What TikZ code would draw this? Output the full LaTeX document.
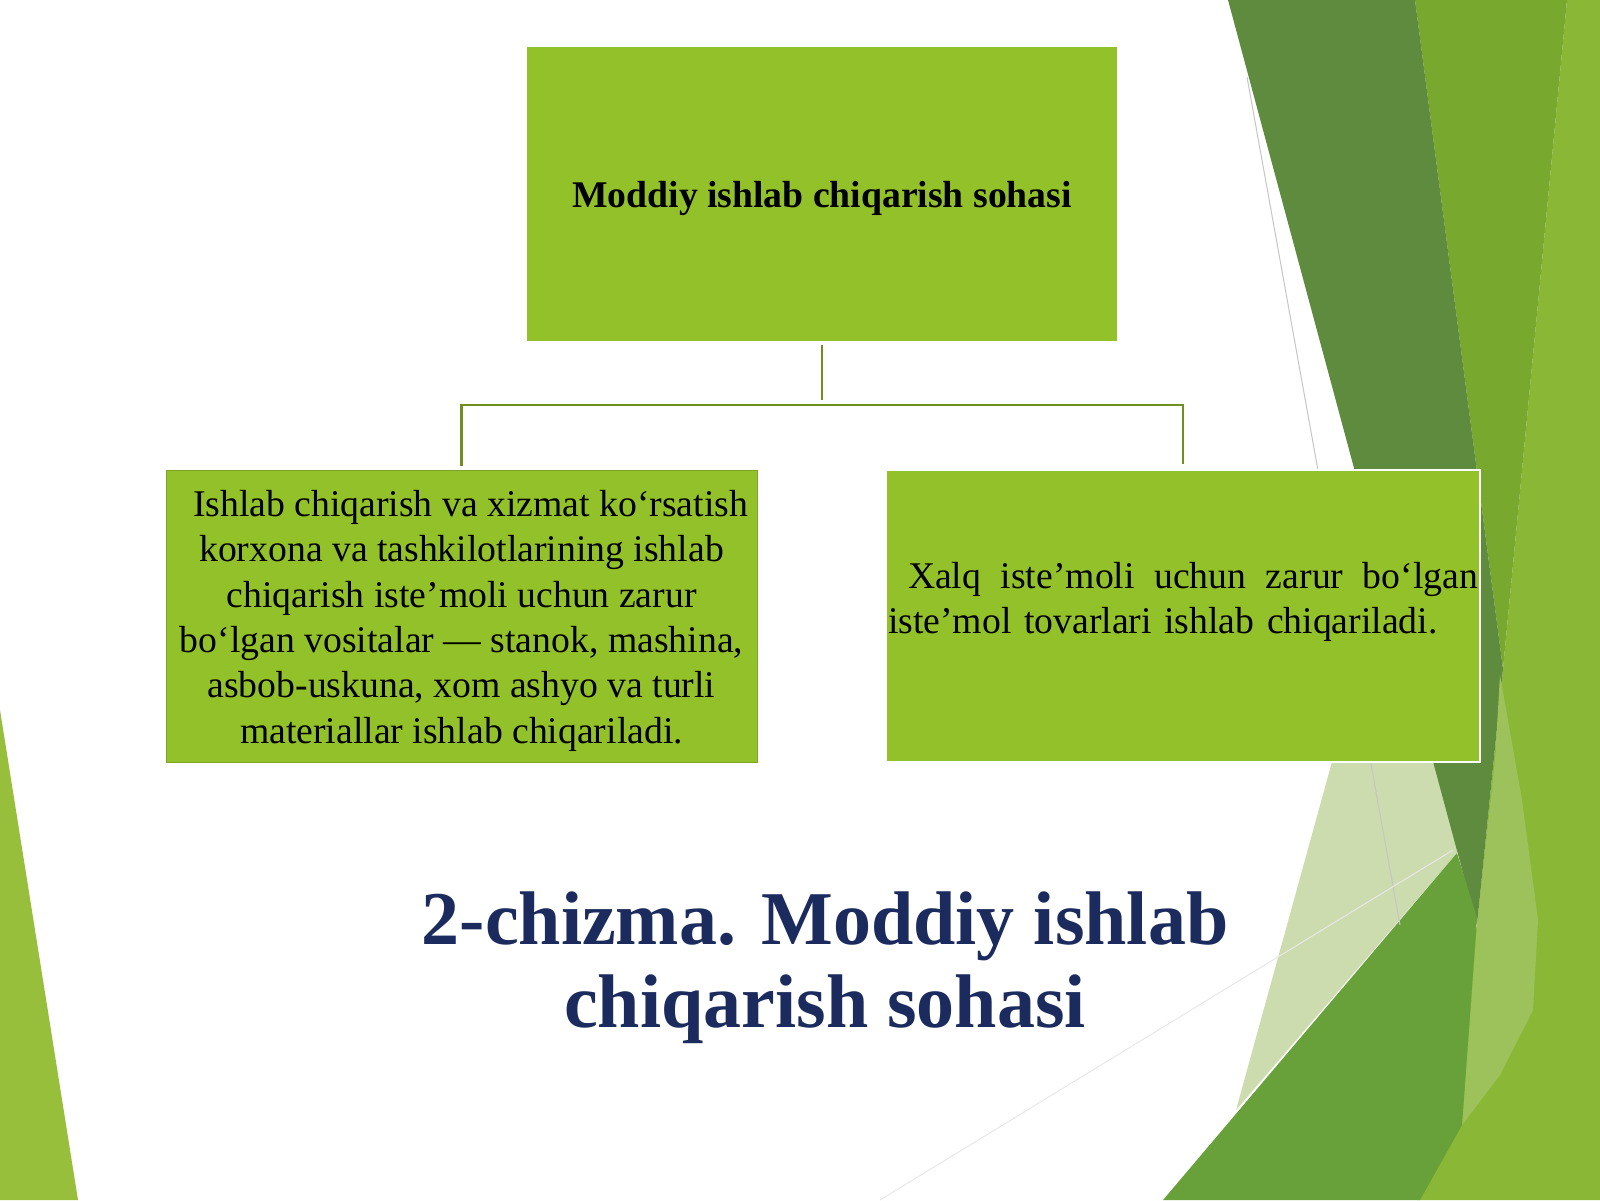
\documentclass[tikz,border=0pt]{standalone}
\usepackage{fontspec}
\setmainfont{Liberation Serif}
\usepackage{tikz}
\usetikzlibrary{calc}
\definecolor{barg}{HTML}{93C12A}
\definecolor{bogich}{HTML}{718F1F}
\definecolor{toqyashil}{HTML}{5E8B3D}
\definecolor{ortayashil}{HTML}{78A82D}
\definecolor{ochyashil}{HTML}{8BB737}
\definecolor{tasma}{HTML}{9DC25C}
\definecolor{oqish}{HTML}{CCDCAE}
\definecolor{yashil}{HTML}{68A13A}
\definecolor{chapyashil}{HTML}{97BF3B}
\definecolor{sarlavha}{HTML}{1B2B5E}
\newcommand\tepa{\rule{0pt}{17.9pt}}

\begin{document}
\begin{tikzpicture}[x=0.5pt,y=-0.5pt,
                    quti/.style={fill=barg,inner sep=0pt,minimum height=146pt,text=black,font=\fontsize{18.85pt}{22.65pt}\selectfont},
                    chiziq/.style={draw=bogich,line width=1.3pt,shorten <=2pt,shorten >=2.5pt}]
                                     \useasboundingbox (0,0) rectangle (1600,1200);
                                     \fill[white] (0,0) rectangle (1600,1200);
                                     \fill[ochyashil] (1567,0) -- (1600,0) -- (1600,1200) -- (1417,1200) -- (1477,925) -- (1503,669) -- cycle;
                                     \fill[ortayashil] (1415,0) -- (1567,0) -- (1503,669) -- cycle;
                                     \fill[oqish] (1338,740) -- (1470,740) -- (1457,853) -- (1236,1110) -- cycle;
                                     \fill[toqyashil] (1228,0) -- (1415,0) -- (1503,669) -- (1477,925) -- cycle;
                                     \fill[tasma] (1500,675) -- (1522,800) -- (1538,920) -- (1533,1010) -- (1500,1075) -- (1462,1125) -- (1477,925) -- (1495,760) -- cycle;
                                     \fill[yashil] (1457,853) -- (1477,918) -- (1462,1125) -- (1420,1200) -- (1163,1200) -- cycle;
                                     \fill[chapyashil] (0,710) -- (78,1200) -- (0,1200) -- cycle;
                                     \draw[gray!45,line width=0.5pt] (1247,77) -- (1400,925);
                                     \draw[gray!18,line width=0.5pt] (880,1200) -- (1453,850);
                                     \node[quti,minimum width=295pt,minimum height=147pt](soha)at(822,194){\tepa\bfseries Moddiy ishlab chiqarish sohasi};
                                     \node[quti,minimum width=295.5pt,draw=barg!85!black,line width=0.5pt,align=center](vosita)at(461.5,616){\tepa\hspace*{9pt}Ishlab chiqarish va xizmat ko‘rsatish\\korxona va tashkilotlarining ishlab\\chiqarish iste’moli uchun zarur\\bo‘lgan vositalar — stanok, mashina,\\asbob-uskuna, xom ashyo va turli\\materiallar ishlab chiqariladi.};
                                     \node[quti,draw=white,line width=1pt,text width=295pt,inner xsep=1pt,align=left](tovar)at(1183,616){\tepa\hspace*{10pt}\makebox[285pt]{Xalq\hfill iste’moli\hfill uchun\hfill zarur\hfill bo‘lgan}\\iste’mol tovarlari ishlab chiqariladi.\\\mbox{}};
                                     \coordinate (ayri) at (soha.south |- 0,405);
                                     \draw[chiziq](soha.south)--(ayri);
                                     \draw[chiziq,line join=miter](vosita.north)|-(ayri)-|(tovar.north);
                                     \node[text=sarlavha,font=\bfseries\fontsize{38pt}{41.5pt}\selectfont,align=center,anchor=base](nom)at(825,1027){2-chizma. Moddiy ishlab\\chiqarish sohasi};
                                 \end{tikzpicture}
\end{document}
